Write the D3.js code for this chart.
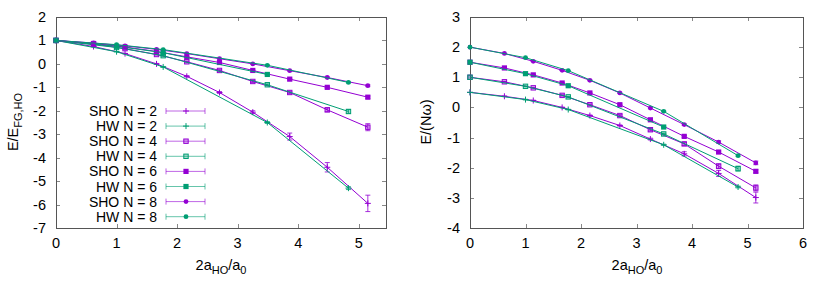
<!DOCTYPE html>
<html><head><meta charset="utf-8">
<script src="https://cdn.jsdelivr.net/npm/d3@7"></script>
<style>body{margin:0;background:#fff} text{font-family:"Liberation Sans",Arial,Helvetica,sans-serif;fill:#000}</style>
</head><body><svg id="c" width="830" height="291"></svg>
<script>
// ---------- data ----------
const seriesNames = ["SHO N = 2","HW N = 2","SHO N = 4","HW N = 4","SHO N = 6","HW N = 6","SHO N = 8","HW N = 8"];
const xTicksLeft = [0,1,2,3,4,5];
const yTicksLeft = [2,1,0,-1,-2,-3,-4,-5,-6,-7];
const xTicksRight = [0,1,2,3,4,5,6];
const yTicksRight = [3,2,1,0,-1,-2,-3,-4];

// x positions (2a_HO/a_0)
const xSHO = [0,0.62,1.14,1.66,2.16,2.70,3.25,3.86,4.48,5.15];
const xHW  = [0,1.00,1.77,3.49,4.83];
const xHW6 = [0,1.00,1.77,3.49];

// left panel: E/E_FG,HO
const lSHO2 = [1,0.74,0.44,0.00,-0.53,-1.22,-2.06,-3.10,-4.41,-5.95];
const lSHO2e= [0,0.01,0.01,0.02,0.03,0.04,0.06,0.15,0.20,0.35];
const lHW2  = [1,0.52,-0.13,-2.50,-5.30];
const lHW2e = [0,0.01,0.02,0.04,0.06];
const lSHO4 = [1,0.85,0.65,0.40,0.09,-0.28,-0.75,-1.22,-1.96,-2.70];
const lSHO4e= [0,0.01,0.01,0.02,0.02,0.03,0.04,0.05,0.08,0.15];
const lHW4  = [1,0.70,0.35,-0.89,-2.03];
const lHW4e = [0,0.01,0.02,0.03,0.08];
const lSHO6 = [1,0.87,0.72,0.53,0.30,0.06,-0.28,-0.65,-1.00,-1.42];
const lSHO6e= [0,0.01,0.01,0.01,0.02,0.02,0.02,0.03,0.03,0.05];
const lHW6  = [1,0.75,0.48,-0.45];
const lHW6e = [0,0.01,0.01,0.02];
const lSHO8 = [1,0.89,0.77,0.62,0.44,0.22,0.00,-0.29,-0.58,-0.93];
const lSHO8e= [0,0.01,0.01,0.01,0.01,0.02,0.02,0.02,0.03,0.04];
const lHW8  = [1,0.82,0.61,-0.06,-0.79];
const lHW8e = [0,0.01,0.01,0.02,0.03];

// right panel: E/(N omega)
const rSHO2 = [0.50,0.37,0.23,0.00,-0.27,-0.60,-1.05,-1.54,-2.19,-2.99];
const rSHO2e= [0,0.01,0.01,0.01,0.02,0.02,0.03,0.07,0.10,0.18];
const rHW2  = [0.50,0.26,-0.07,-1.24,-2.64];
const rHW2e = [0,0.01,0.01,0.02,0.03];
const rSHO4 = [1.00,0.85,0.65,0.40,0.09,-0.27,-0.74,-1.21,-1.95,-2.67];
const rSHO4e= [0,0.01,0.01,0.02,0.02,0.03,0.04,0.05,0.08,0.10];
const rHW4  = [1.00,0.70,0.35,-0.88,-2.03];
const rHW4e = [0,0.01,0.01,0.02,0.08];
const rSHO6 = [1.50,1.31,1.08,0.81,0.48,0.09,-0.41,-0.96,-1.48,-2.12];
const rSHO6e= [0,0.01,0.01,0.01,0.02,0.02,0.02,0.03,0.03,0.05];
const rHW6  = [1.50,1.12,0.72,-0.65];
const rHW6e = [0,0.01,0.01,0.02];
const rSHO8 = [2.00,1.79,1.53,1.23,0.90,0.48,-0.02,-0.57,-1.15,-1.84];
const rSHO8e= [0,0.01,0.01,0.01,0.02,0.02,0.02,0.03,0.04,0.06];
const rHW8  = [2.00,1.65,1.22,-0.13,-1.60];
const rHW8e = [0,0.01,0.01,0.02,0.03];

// ---------- styles ----------
const PURPLE = "#9400d3", TEAL = "#009e73";
const seriesColor = [PURPLE,TEAL,PURPLE,TEAL,PURPLE,TEAL,PURPLE,TEAL];
const seriesMarker = ["plus","plus","osq","osq","fsq","fsq","circ","circ"];

function build(xs, ys, es){ return xs.map((x,i)=>({x:x,y:ys[i],e:es[i]})); }
const leftData = [
  build(xSHO,lSHO2,lSHO2e), build(xHW,lHW2,lHW2e),
  build(xSHO,lSHO4,lSHO4e), build(xHW,lHW4,lHW4e),
  build(xSHO,lSHO6,lSHO6e), build(xHW6,lHW6,lHW6e),
  build(xSHO,lSHO8,lSHO8e), build(xHW,lHW8,lHW8e)];
const rightData = [
  build(xSHO,rSHO2,rSHO2e), build(xHW,rHW2,rHW2e),
  build(xSHO,rSHO4,rSHO4e), build(xHW,rHW4,rHW4e),
  build(xSHO,rSHO6,rSHO6e), build(xHW6,rHW6,rHW6e),
  build(xSHO,rSHO8,rSHO8e), build(xHW,rHW8,rHW8e)];

const svg = d3.select("#c");
const FS = 14.5;
const LFS = 14;

function marker(g, type, cx, cy, color){
  if(type==="plus"){
    g.append("path").attr("d",`M${cx-3},${cy}H${cx+3}M${cx},${cy-3}V${cy+3}`)
      .attr("stroke",color).attr("stroke-width",1).attr("fill","none");
  } else if(type==="osq"){
    g.append("rect").attr("x",cx-2.2).attr("y",cy-2.2).attr("width",4.4).attr("height",4.4)
      .attr("stroke",color).attr("stroke-width",1).attr("fill",color).attr("fill-opacity",0.35);
  } else if(type==="fsq"){
    g.append("rect").attr("x",cx-2.6).attr("y",cy-2.6).attr("width",5.2).attr("height",5.2).attr("fill",color);
  } else {
    g.append("circle").attr("cx",cx).attr("cy",cy).attr("r",2.4).attr("fill",color);
  }
}

function panel(opt){
  const {x0,x1,y0,y1,xdom,ydom,xticks,yticks,data} = opt;
  const xs = d3.scaleLinear().domain(xdom).range([x0,x1]);
  const ys = d3.scaleLinear().domain(ydom).range([y1,y0]);
  const g = svg.append("g");
  const tk = g.append("g").attr("stroke","#888").attr("stroke-width",1);
  xticks.forEach(t=>{
    const px = Math.round(xs(t))+0.5;
    tk.append("line").attr("x1",px).attr("x2",px).attr("y1",y1).attr("y2",y1-4);
    tk.append("line").attr("x1",px).attr("x2",px).attr("y1",y0).attr("y2",y0+4);
    g.append("text").attr("x",xs(t)).attr("y",y1+20).attr("text-anchor","middle")
      .attr("font-size",FS).text(t);
  });
  yticks.forEach(t=>{
    const py = Math.round(ys(t))+0.5;
    tk.append("line").attr("x1",x0).attr("x2",x0+4).attr("y1",py).attr("y2",py);
    tk.append("line").attr("x1",x1).attr("x2",x1-4).attr("y1",py).attr("y2",py);
    g.append("text").attr("x",x0-10).attr("y",ys(t)+5).attr("text-anchor","end")
      .attr("font-size",FS).text(t);
  });
  g.append("rect").attr("x",x0+0.5).attr("y",y0+0.5).attr("width",x1-x0).attr("height",y1-y0)
    .attr("fill","none").attr("stroke","#555").attr("stroke-width",1);
  const line = d3.line().x(d=>xs(d.x)).y(d=>ys(d.y));
  data.forEach((ser,i)=>{
    const c = seriesColor[i];
    const sg = g.append("g");
    sg.append("path").datum(ser).attr("d",line).attr("fill","none")
      .attr("stroke",c).attr("stroke-width",1);
    ser.forEach(d=>{
      if(d.e>0){
        const px=xs(d.x), ya=ys(d.y+d.e), yb=ys(d.y-d.e);
        sg.append("path").attr("d",`M${px},${ya}V${yb}M${px-2.5},${ya}H${px+2.5}M${px-2.5},${yb}H${px+2.5}`)
          .attr("stroke",c).attr("stroke-width",1).attr("fill","none").attr("stroke-opacity",0.8);
      }
      marker(sg, seriesMarker[i], xs(d.x), ys(d.y), c);
    });
  });
  return {xs,ys,g};
}

panel({x0:56,x1:386,y0:17,y1:228,xdom:[0,5.45],ydom:[-7,2],
  xticks:xTicksLeft,yticks:yTicksLeft,data:leftData});
panel({x0:470,x1:803,y0:17,y1:228,xdom:[0,6],ydom:[-4,3],
  xticks:xTicksRight,yticks:yTicksRight,data:rightData});

// legend (left panel)
const lg = svg.append("g");
seriesNames.forEach((name,i)=>{
  const y = 111 + i*15.1;
  const c = seriesColor[i];
  lg.append("text").attr("x",157).attr("y",y+5).attr("text-anchor","end").attr("font-size",LFS).text(name);
  lg.append("path").attr("d",`M166,${y}H205M166,${y-3}V${y+3}M205,${y-3}V${y+3}`)
    .attr("stroke",c).attr("stroke-width",1).attr("stroke-opacity",0.6).attr("fill","none");
  marker(lg, seriesMarker[i], 186, y, c);
});

// axis labels
function xlabel(cx){
  const t = svg.append("text").attr("x",cx).attr("y",270).attr("text-anchor","middle").attr("font-size",FS);
  t.append("tspan").text("2a");
  t.append("tspan").attr("font-size",11).attr("dy",4).text("HO");
  t.append("tspan").attr("dy",-4).text("/a");
  t.append("tspan").attr("font-size",11).attr("dy",4).text("0");
}
xlabel(221);
xlabel(637);
const yl = svg.append("text").attr("transform","translate(18,122) rotate(-90)")
  .attr("text-anchor","middle").attr("font-size",FS);
yl.append("tspan").text("E/E");
yl.append("tspan").attr("font-size",11).attr("dy",4).text("FG,HO");
svg.append("text").attr("transform","translate(431,122) rotate(-90)")
  .attr("text-anchor","middle").attr("font-size",FS).text("E/(Nω)");
</script></body></html>
